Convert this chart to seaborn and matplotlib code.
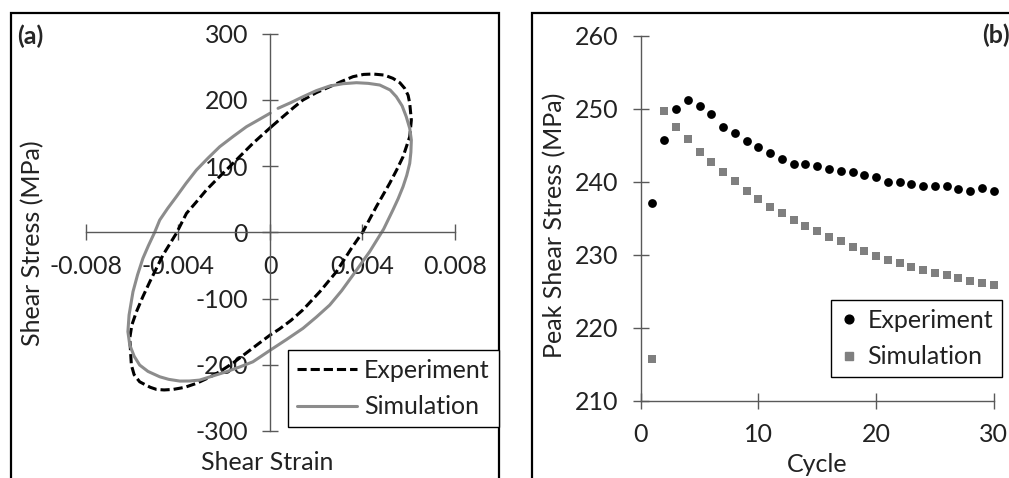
import matplotlib
matplotlib.use("Agg")
import matplotlib.pyplot as plt
from matplotlib.patches import Rectangle
from matplotlib.lines import Line2D
import seaborn as sns
import pandas as pd

# ---------------- data ----------------
# Panel (a): hysteresis loops (shear strain, shear stress MPa)
exp_strain = [0.00005, 0.00055, 0.00100, 0.00142, 0.00200, 0.00258, 0.00310, 0.00359,
              0.00405, 0.00446, 0.00495, 0.00532, 0.00562, 0.00583, 0.00598, 0.00605,
              0.00612, 0.00605, 0.00576, 0.00548, 0.00518, 0.00460, 0.00402,
              0.00352, 0.00287, 0.00215, 0.00142, 0.00090, 0.00040, 0.00000, -0.00050,
              -0.00103, -0.00160, -0.00219, -0.00270, -0.00320, -0.00370, -0.00421,
              -0.00460, -0.00493, -0.00520, -0.00548, -0.00566, -0.00590, -0.00602,
              -0.00609, -0.00600, -0.00580, -0.00552, -0.00522, -0.00465, -0.00407,
              -0.00363, -0.00320, -0.00277, -0.00226, -0.00176, -0.00125, -0.00075,
              -0.00035, 0.00005]
exp_stress = [159.5, 174.6, 188.0, 199.9, 211.0, 219.9, 228.0, 235.1,
              238.5, 239.1, 237.5, 232.6, 226.0, 217.5, 207.0, 194.9,
              169.6, 144.4, 114.2, 94.0, 74.0, 38.7, 0.9,
              -24.2, -59.5, -89.7, -117.0, -133.0, -146.0, -155.0, -168.0,
              -182.0, -197.0, -210.5, -220.0, -228.1, -234.0, -237.2,
              -238.0, -237.2, -234.0, -229.0, -225.7, -215.0, -200.4,
              -160.1, -140.0, -119.9, -97.0, -74.6, -34.3, -1.5,
              28.7, 46.0, 63.9, 82.0, 99.1, 117.0, 134.4,
              147.0, 159.5]

sim_strain = [0.00034, 0.00090, 0.00142, 0.00200, 0.00258, 0.00316, 0.00374, 0.00425,
              0.00475, 0.00520, 0.00547, 0.00572, 0.00590, 0.00605, 0.00612, 0.00610,
              0.00605, 0.00592, 0.00576, 0.00555, 0.00532, 0.00492, 0.00431, 0.00359,
              0.00310, 0.00258, 0.00200, 0.00142, 0.00070, 0.00000, -0.00075,
              -0.00130, -0.00190, -0.00250, -0.00306, -0.00350, -0.00392, -0.00440,
              -0.00479, -0.00530, -0.00566, -0.00590, -0.00609, -0.00617, -0.00612,
              -0.00595, -0.00575, -0.00552, -0.00528, -0.00501, -0.00479, -0.00445,
              -0.00407, -0.00365, -0.00320, -0.00270, -0.00219, -0.00160, -0.00103,
              -0.00050, 0.00000]
sim_stress = [187.3, 196.0, 204.8, 214.0, 221.0, 224.5, 226.0, 225.0,
              222.5, 215.0, 204.8, 191.0, 174.6, 157.0, 139.4, 121.0,
              104.2, 86.0, 69.0, 51.0, 33.7, 5.0, -29.3, -64.5,
              -88.0, -109.8, -128.0, -145.0, -162.0, -178.0, -195.5,
              -203.0, -210.5, -217.0, -223.1, -224.5, -224.6, -222.0,
              -218.1, -210.0, -200.4, -187.0, -170.0, -150.0, -125.0,
              -89.7, -64.0, -39.3, -20.0, 0.0, 18.6, 36.0,
              53.8, 74.0, 94.1, 112.0, 129.3, 145.0, 159.5,
              170.0, 180.0]

# Panel (b): peak shear stress per cycle
cycles = list(range(1, 31))
exp_peak = [237.1, 245.7, 250.0, 251.2, 250.4, 249.3, 247.5, 246.7, 245.6, 244.8,
            244.0, 243.1, 242.5, 242.4, 242.1, 241.8, 241.5, 241.3, 240.9, 240.6,
            240.0, 240.0, 239.7, 239.4, 239.4, 239.4, 239.0, 238.8, 239.2, 238.8]
sim_peak = [215.8, 249.7, 247.5, 245.9, 244.1, 242.7, 241.3, 240.1, 238.8, 237.7,
            236.6, 235.7, 234.8, 234.0, 233.3, 232.5, 231.9, 231.1, 230.5, 229.8,
            229.3, 228.9, 228.4, 227.9, 227.5, 227.2, 226.9, 226.4, 226.2, 225.9]

x_ticks_a = [-0.008, -0.004, 0, 0.004, 0.008]
x_ticklabels_a = ["-0.008", "-0.004", "0", "0.004", "0.008"]
y_ticks_a = [-300, -200, -100, 0, 100, 200, 300]
x_ticks_b = [0, 10, 20, 30]
y_ticks_b = [210, 220, 230, 240, 250, 260]

# ---------------- style ----------------
sns.set_style("white")
plt.rcParams["font.family"] = ["Lato", "DejaVu Sans"]
FS = 18
AX_COLOR = "#595959"
TXT = "#222222"
GRAY = "#8c8c8c"
SQ_GRAY = "#7f7f7f"
DASH = (0, (3, 1.3))

W, H = 1009, 478
fig = plt.figure(figsize=(W / 100, H / 100), dpi=100)

def fx(px):
    return px / W

def fy(py):
    return 1 - py / H

# panel borders
fig.add_artist(Rectangle((fx(11), -0.1), fx(499) - fx(11), fy(13) + 0.1,
                         transform=fig.transFigure, fill=False, ec="black", lw=1.6))
fig.add_artist(Rectangle((fx(532), -0.1), 1.2 - fx(532), fy(13) + 0.1,
                         transform=fig.transFigure, fill=False, ec="black", lw=1.6))

def style_axes(ax):
    for s in ["top", "right"]:
        ax.spines[s].set_visible(False)
    for s in ["left", "bottom"]:
        ax.spines[s].set_color(AX_COLOR)
        ax.spines[s].set_linewidth(1.0)
    ax.tick_params(direction="inout", length=12, width=1.0, color=AX_COLOR,
                   labelsize=FS, labelcolor=TXT, pad=10,
                   bottom=True, left=True, top=False, right=False)

# ---------------- panel (a) ----------------
axa = fig.add_axes([fx(85.7), fy(431), fx(454.7) - fx(85.7), fy(33.7) - fy(431)])
axa.set_facecolor("none")
dfe = pd.DataFrame({"strain": exp_strain, "stress": exp_stress})
dfs = pd.DataFrame({"strain": sim_strain, "stress": sim_stress})
sns.lineplot(data=dfe, x="strain", y="stress", sort=False, estimator=None, ax=axa,
             color="black", lw=2.2, linestyle=DASH, dash_capstyle="butt")
sns.lineplot(data=dfs, x="strain", y="stress", sort=False, estimator=None, ax=axa,
             color=GRAY, lw=2.2)
axa.set_xlim(-0.008, 0.008)
axa.set_ylim(-300, 300)
axa.spines["left"].set_position(("data", 0))
axa.spines["bottom"].set_position(("data", 0))
style_axes(axa)
axa.set_xticks(x_ticks_a)
axa.set_xticklabels(x_ticklabels_a)
axa.set_yticks(y_ticks_a)
axa.set_yticklabels([str(v) for v in y_ticks_a])
axa.set_xlabel("Shear Strain", fontsize=FS, color=TXT)
axa.xaxis.set_label_coords(0.491, (fy(463) - fy(431)) / (fy(33.7) - fy(431)))
axa.xaxis.label.set_va("center")
axa.set_ylabel("Shear Stress (MPa)", fontsize=FS, color=TXT)
axa.yaxis.set_label_coords((33 - 85.7) / 369, (fy(243) - fy(431)) / (fy(33.7) - fy(431)))
axa.yaxis.label.set_va("center")

h_a = [Line2D([], [], color="black", lw=2.2, linestyle=DASH, dash_capstyle="butt"),
       Line2D([], [], color=GRAY, lw=2.2)]
leg_a = fig.legend(h_a, ["Experiment", "Simulation"], loc="upper left",
                   bbox_to_anchor=(fx(288), fy(350)), bbox_transform=fig.transFigure,
                   fontsize=FS, frameon=True, fancybox=False, framealpha=1,
                   edgecolor="black", handlelength=2.4, handletextpad=0.3,
                   labelspacing=0.55, borderpad=0.35, borderaxespad=0)
leg_a.get_frame().set_linewidth(1.0)
for t in leg_a.get_texts():
    t.set_color(TXT)

fig.text(fx(17), fy(36), "(a)", fontsize=FS, fontweight="bold", ha="left", va="center")

# ---------------- panel (b) ----------------
axb = fig.add_axes([fx(640.7), fy(401), fx(993.7) - fx(640.7), fy(35.7) - fy(401)])
axb.set_facecolor("none")
sns.scatterplot(x=cycles, y=exp_peak, ax=axb, color="black", marker="o", s=40,
                linewidth=0, clip_on=False, label="Experiment")
sns.scatterplot(x=cycles, y=sim_peak, ax=axb, color=SQ_GRAY, marker="s", s=36,
                linewidth=0, clip_on=False, label="Simulation")
axb.set_xlim(0, 30)
axb.set_ylim(210, 260)
style_axes(axb)
axb.set_xticks(x_ticks_b)
axb.set_yticks(y_ticks_b)
axb.set_xlabel("Cycle", fontsize=FS, color=TXT)
axb.xaxis.set_label_coords((816.7 - 640.7) / 353, (fy(465) - fy(401)) / (fy(35.7) - fy(401)))
axb.xaxis.label.set_va("center")
axb.set_ylabel("Peak Shear Stress (MPa)", fontsize=FS, color=TXT)
axb.yaxis.set_label_coords((555 - 640.7) / 353, (fy(225) - fy(401)) / (fy(35.7) - fy(401)))
axb.yaxis.label.set_va("center")
axb.get_legend().remove()

h_b = [Line2D([], [], color="black", marker="o", markersize=6.3, linestyle="none"),
       Line2D([], [], color=SQ_GRAY, marker="s", markersize=6.0, linestyle="none")]
leg_b = fig.legend(h_b, ["Experiment", "Simulation"], loc="upper left",
                   bbox_to_anchor=(fx(831), fy(300)), bbox_transform=fig.transFigure,
                   fontsize=FS, frameon=True, fancybox=False, framealpha=1,
                   edgecolor="black", handlelength=0.7, handletextpad=0.4,
                   labelspacing=0.55, borderpad=0.35, borderaxespad=0)
leg_b.get_frame().set_linewidth(1.0)
for t in leg_b.get_texts():
    t.set_color(TXT)

fig.text(fx(982), fy(35), "(b)", fontsize=FS, fontweight="bold", ha="left", va="center")

fig.savefig("out.png", dpi=100)
